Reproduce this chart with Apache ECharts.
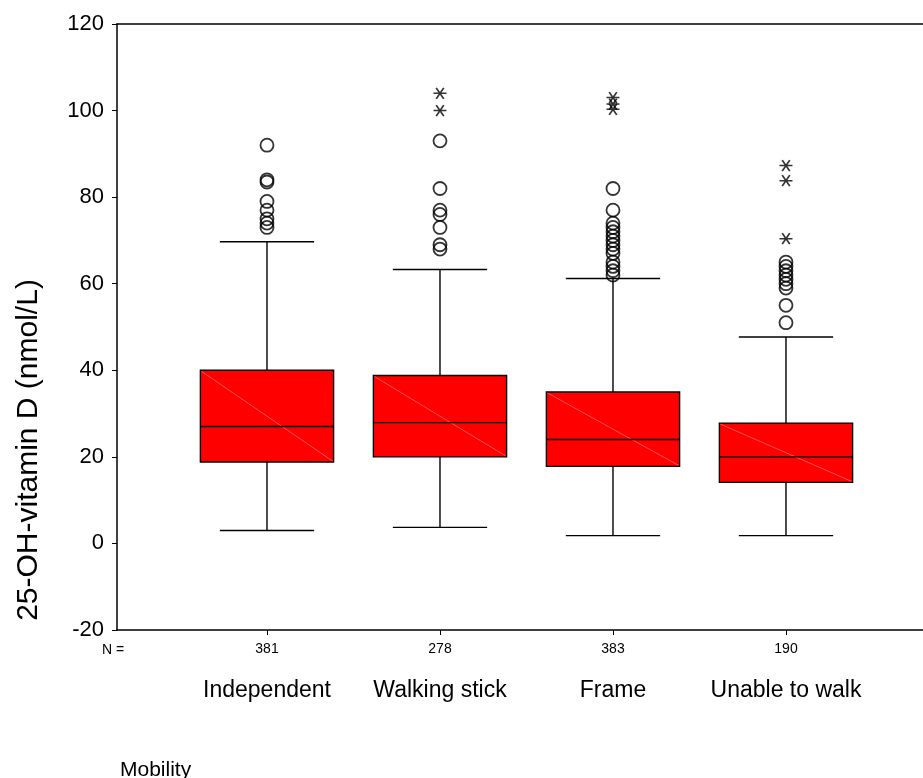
<!DOCTYPE html>
<html>
<head>
<meta charset="utf-8">
<script src="https://cdn.jsdelivr.net/npm/echarts@6/dist/echarts.min.js"></script>
<style>
  html, body { margin: 0; padding: 0; background: #fff; }
  #chart { width: 923px; height: 778px; }
</style>
</head>
<body>
<div id="chart"></div>
<script>
// Mobility groups and their sample sizes
const categories = ['Independent', 'Walking stick', 'Frame', 'Unable to walk'];
const counts = [381, 278, 383, 190];

// Box statistics (nmol/L)
const lowerWhisker = [3.0, 3.7, 1.8, 1.8];
const quartile1 = [18.8, 20.0, 17.8, 14.1];
const medians = [27.0, 27.9, 24.0, 20.0];
const quartile3 = [40.0, 38.8, 35.0, 27.8];
const upperWhisker = [69.7, 63.3, 61.2, 47.7];

// Outliers (circles) and extreme values (asterisks) per group
const outliers = [
  [92, 84, 83.5, 79, 77, 75, 74, 73],
  [93, 82, 77, 76, 73, 69, 68],
  [82, 77, 74, 73, 72, 71, 70, 69, 68, 67, 65, 64, 63, 62],
  [65, 64, 63, 62, 61, 60, 59, 55, 51]
];
const extremes = [
  [],
  [104, 100],
  [103, 101.5, 100.3],
  [87.3, 83.8, 70.4]
];

// Y axis ticks
const yMin = -20, yMax = 120, yStep = 20;

const positions = categories.map((_, i) => i + 1);
const boxData = positions.map((p, i) => [p, lowerWhisker[i], quartile1[i], medians[i], quartile3[i], upperWhisker[i]]);
const outlierData = [];
outliers.forEach((vals, i) => vals.forEach(v => outlierData.push([i + 1, v])));
const extremeData = [];
extremes.forEach((vals, i) => vals.forEach(v => extremeData.push([i + 1, v])));

const BOX_W = 0.77;   // box width in axis units
const CAP_W = 0.545;  // whisker cap width in axis units

function renderBox(params, api) {
  const x = api.value(0);
  const lo = api.coord([x, api.value(1)]);
  const q1 = api.coord([x, api.value(2)]);
  const md = api.coord([x, api.value(3)]);
  const q3 = api.coord([x, api.value(4)]);
  const hi = api.coord([x, api.value(5)]);
  const half = api.size([BOX_W, 0])[0] / 2;
  const capHalf = api.size([CAP_W, 0])[0] / 2;
  const cx = lo[0];
  const line = { stroke: '#000', lineWidth: 1.4 };
  return {
    type: 'group',
    children: [
      { type: 'line', shape: { x1: cx, y1: hi[1], x2: cx, y2: q3[1] }, style: line },
      { type: 'line', shape: { x1: cx, y1: q1[1], x2: cx, y2: lo[1] }, style: line },
      { type: 'line', shape: { x1: cx - capHalf, y1: hi[1], x2: cx + capHalf, y2: hi[1] }, style: line },
      { type: 'line', shape: { x1: cx - capHalf, y1: lo[1], x2: cx + capHalf, y2: lo[1] }, style: line },
      { type: 'rect', shape: { x: cx - half, y: q3[1], width: half * 2, height: q1[1] - q3[1] },
        style: { fill: '#ff0000', stroke: '#000', lineWidth: 1.4 } },
      { type: 'line', shape: { x1: cx - half + 1, y1: q3[1] + 1, x2: cx + half - 1, y2: q1[1] - 1 },
        style: { stroke: '#ff6a6a', lineWidth: 0.8 } },
      { type: 'line', shape: { x1: cx - half, y1: md[1], x2: cx + half, y2: md[1] }, style: line }
    ]
  };
}

const chart = echarts.init(document.getElementById('chart'), null, { renderer: 'canvas' });
const xRange = { min: 0.133, max: 4.792 };
const fontFamily = 'Liberation Sans, Arial, sans-serif';

chart.setOption({
  animation: false,
  backgroundColor: '#fff',
  grid: { left: 117, right: 0, top: 24, bottom: 148 },
  xAxis: [
    {
      type: 'value', position: 'bottom', min: xRange.min, max: xRange.max,
      axisLine: { show: true, onZero: false, lineStyle: { color: '#000', width: 1.5 } },
      axisTick: { show: true, customValues: positions, length: 5, lineStyle: { color: '#000' } },
      axisLabel: { customValues: positions, formatter: v => String(counts[Math.round(v) - 1]),
        color: '#000', fontSize: 14, fontFamily, margin: 12 },
      splitLine: { show: false }
    },
    {
      type: 'value', position: 'bottom', offset: 40, min: xRange.min, max: xRange.max,
      axisLine: { show: false, onZero: false }, axisTick: { show: false },
      axisLabel: { customValues: positions, formatter: v => categories[Math.round(v) - 1],
        color: '#000', fontSize: 23, fontFamily, margin: 9 },
      splitLine: { show: false }
    },
    {
      type: 'value', position: 'top', min: xRange.min, max: xRange.max,
      axisLine: { show: true, onZero: false, lineStyle: { color: '#000', width: 1.5 } },
      axisTick: { show: false }, axisLabel: { show: false }, splitLine: { show: false }
    }
  ],
  yAxis: {
    type: 'value', min: yMin, max: yMax, interval: yStep,
    axisLine: { show: true, onZero: false, lineStyle: { color: '#000', width: 1.5 } },
    axisTick: { show: true, length: 5, lineStyle: { color: '#000' } },
    axisLabel: { color: '#000', fontSize: 22, fontFamily, margin: 13 },
    splitLine: { show: false }
  },
  series: [
    {
      type: 'custom', xAxisIndex: 0, renderItem: renderBox, data: boxData,
      encode: { x: 0, y: [1, 2, 3, 4, 5] }, z: 2
    },
    {
      type: 'scatter', xAxisIndex: 0, data: outlierData, symbol: 'circle', symbolSize: 13,
      itemStyle: { color: 'rgba(255,255,255,0)', borderColor: '#000', borderWidth: 1.8 }, z: 3
    },
    {
      type: 'scatter', xAxisIndex: 0, data: extremeData,
      symbol: 'path://M0,5L12,5M2.5,0L9.5,10M9.5,0L2.5,10', symbolSize: [13, 11],
      itemStyle: { color: 'rgba(0,0,0,0)', borderColor: '#000', borderWidth: 1.6 }, z: 3
    }
  ],
  graphic: [
    { type: 'text', x: 29, y: 450, rotation: Math.PI / 2,
      style: { text: '25-OH-vitamin D (nmol/L)', font: '30px ' + fontFamily, fill: '#000',
        align: 'center', verticalAlign: 'middle' } },
    { type: 'text', x: 113, y: 650,
      style: { text: 'N =', font: '14px ' + fontFamily, fill: '#000', align: 'center', verticalAlign: 'middle' } },
    { type: 'text', x: 120, y: 770,
      style: { text: 'Mobility', font: '21px ' + fontFamily, fill: '#000', align: 'left', verticalAlign: 'middle' } }
  ]
});
</script>
</body>
</html>
